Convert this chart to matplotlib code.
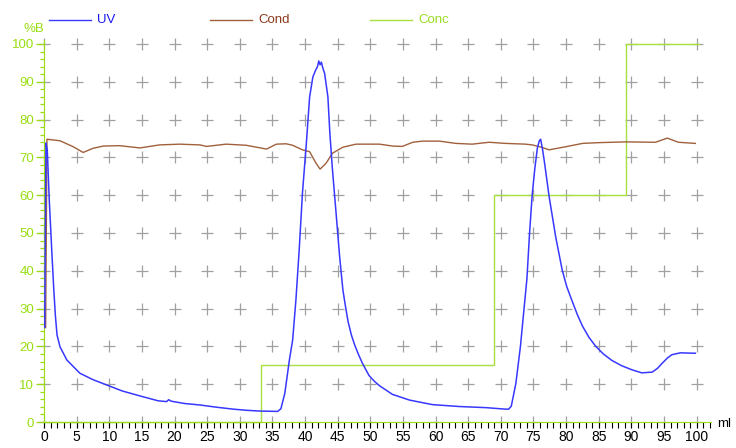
import matplotlib
matplotlib.use('Agg')
import matplotlib.pyplot as plt
from matplotlib.ticker import MultipleLocator

plt.rcParams['font.family'] = ['Liberation Sans', 'DejaVu Sans']

# UV trace (mAU scaled to %B axis)
uv_ml = [0.1, 0.3, 0.5, 0.8, 1.2, 1.5, 1.75, 2.0, 2.45, 3.5, 5.5, 7.5, 9.6, 12.0,
         14.7, 17.5, 18.8, 19.1, 19.5, 21.5, 23.9, 26.5, 29.0, 31.0, 33.0, 35.8,
         36.3, 36.9, 37.6, 38.1, 38.6, 39.1, 39.6, 40.2, 40.7, 41.2, 41.6, 41.9,
         42.1, 42.3, 42.5, 42.7, 43.0, 43.5, 43.8, 44.2, 44.8, 45.3, 45.8, 46.2,
         46.6, 47.1, 47.6, 48.2, 48.8, 49.8, 50.6, 51.4, 53.4, 56.0, 59.5, 63.6,
         67.7, 70.7, 71.2, 71.6, 72.3, 73.0, 73.5, 74.0, 74.4, 74.8, 75.2, 75.6,
         75.9, 76.1, 76.4, 76.7, 77.4, 78.4, 79.4, 80.1, 80.9, 81.7, 82.5, 83.5,
         84.5, 85.7, 87.0, 88.5, 90.1, 91.6, 93.2, 94.0, 94.7, 95.5, 96.2, 97.5,
         99.5, 99.8]
uv = [25.0, 73.8, 72.0, 59.0, 45.0, 35.0, 28.0, 23.0, 19.9, 16.4, 12.9, 11.2, 9.8, 8.2,
      6.9, 5.6, 5.4, 5.9, 5.5, 4.9, 4.5, 3.9, 3.4, 3.1, 2.9, 2.8,
      3.5, 7.6, 16.4, 21.7, 32.3, 45.5, 60.5, 73.8, 86.0, 91.3, 93.0, 94.0,
      95.5, 94.5, 95.2, 93.8, 92.2, 86.0, 76.4, 66.7, 54.3, 43.7, 34.9, 30.5,
      26.5, 23.0, 20.4, 17.8, 15.5, 12.3, 10.8, 9.6, 7.3, 5.8, 4.6, 4.1,
      3.8, 3.4, 3.4, 4.2, 10.2, 20.0, 29.0, 38.0, 50.0, 60.0, 67.0, 72.5,
      74.4, 74.8, 72.0, 68.5, 59.6, 49.0, 40.2, 35.8, 32.1, 28.5, 25.4, 22.4,
      20.1, 18.0, 16.3, 14.9, 13.8, 13.0, 13.2, 14.2, 15.5, 16.9, 17.8, 18.3,
      18.2, 18.2]

# conductivity trace
cond_ml = [0.25, 0.45, 2.45, 4.5, 6.0, 7.5, 9.1, 11.6, 14.7, 17.7, 20.8, 23.9, 24.9,
           27.9, 31.0, 34.1, 35.6, 37.1, 38.1, 39.6, 40.7, 41.7, 42.3, 43.2, 44.2,
           45.8, 47.8, 51.4, 53.4, 54.9, 56.5, 58.0, 60.6, 63.1, 65.6, 68.2, 70.7,
           73.8, 74.8, 76.0, 77.4, 79.9, 82.5, 85.0, 89.1, 93.7, 95.5, 97.2, 99.8]
cond = [25.0, 74.8, 74.4, 72.8, 71.3, 72.4, 73.0, 73.1, 72.5, 73.3, 73.5, 73.3, 72.9,
        73.5, 73.2, 72.2, 73.5, 73.6, 73.2, 72.0, 71.5, 68.4, 66.9, 68.4, 71.1,
        72.7, 73.5, 73.5, 73.0, 72.9, 74.0, 74.3, 74.3, 73.7, 73.5, 74.0, 73.7,
        73.5, 73.3, 72.8, 72.0, 72.8, 73.7, 73.9, 74.1, 74.0, 75.1, 74.0, 73.7]

# gradient steps (%B)
conc_ml = [0.0, 33.3, 69.0, 89.1, 100.3]
conc_b = [0, 15, 60, 100, 100]

uv_col = '#3838ff'
cond_col = '#a0603c'
conc_col = '#a8e040'
axis_col = '#99dd11'

fig = plt.figure(figsize=(7.36, 4.48), dpi=100)
ax = fig.add_axes([44/736, 26/448, 667/736, 381.8/448])

# '+' grid marks
for gx in range(0, 101, 5):
    ax.plot([gx]*11, list(range(0, 101, 10)), ls='none', marker='+', ms=9,
            mew=0.9, color='#a0a0a0', zorder=1, clip_on=False)

ax.step(conc_ml, conc_b, where='post', color=conc_col, lw=1.0, zorder=2, clip_on=False)
ax.plot(cond_ml, cond, color=cond_col, lw=1.0, zorder=3)
ax.plot(uv_ml, uv, color=uv_col, lw=1.1, zorder=4)

ax.set_xlim(0, 102.2)
ax.set_ylim(0, 101)
for s in ['top', 'right']:
    ax.spines[s].set_visible(False)
ax.spines['left'].set_color(axis_col)
ax.spines['bottom'].set_color(axis_col)

ax.xaxis.set_major_locator(MultipleLocator(5))
ax.xaxis.set_minor_locator(MultipleLocator(1))
ax.yaxis.set_major_locator(MultipleLocator(10))
ax.yaxis.set_minor_locator(MultipleLocator(2))
ax.tick_params(axis='x', which='both', direction='out', color='black', length=4,
               width=0.8, labelsize=10, labelcolor='black', pad=2)
ax.tick_params(axis='y', which='major', direction='out', color=axis_col, length=6,
               width=0.9, labelsize=9.5, labelcolor=axis_col, pad=1)
ax.tick_params(axis='y', which='minor', direction='out', color=axis_col, length=3, width=0.9)

fig.text(23/736, 1 - 29/448, '%B', color=axis_col, fontsize=9.5, va='center', ha='left')
fig.text(717/736, 1 - 424/448, 'ml', color='black', fontsize=9.5, va='center', ha='left')

# legend row
for x0, name, lc, tc in [(49, 'UV', uv_col, '#1a1aee'),
                         (210, 'Cond', cond_col, '#8b3a1a'),
                         (370, 'Conc', conc_col, '#99dd22')]:
    fig.add_artist(plt.Line2D([x0/736, (x0+42)/736], [1 - 20/448]*2, color=lc, lw=1.0))
    fig.text((x0+48)/736, 1 - 20/448, name, color=tc, fontsize=9.5, va='center', ha='left')

plt.savefig('out.png', dpi=100)
